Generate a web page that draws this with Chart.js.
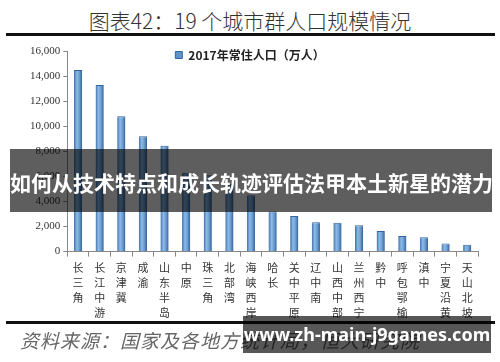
<!DOCTYPE html>
<html>
<head>
<meta charset="utf-8">
<script src="https://cdn.jsdelivr.net/npm/chart.js@4.4.1/dist/chart.umd.min.js"></script>
<style>
  body { margin: 0; background: #fff; }
  #wrap { position: relative; width: 500px; height: 362px; overflow: hidden; background: #fff; }
  #chartBox { position: absolute; left: 0; top: 0; width: 500px; height: 362px; }
  .title { position: absolute; left: 0; top: 5px; width: 500px; text-align: center;
           font: 300 21px "Noto Sans CJK SC", sans-serif; color: #333; }
  .rule { position: absolute; left: 6px; width: 489px; height: 3px; background: #111; }
  .source { position: absolute; left: 20px; top: 326px; font: italic 19px "Noto Sans CJK SC", sans-serif;
            color: #666; letter-spacing: 1px; white-space: nowrap; }
  .banner { position: absolute; left: 10px; top: 149px; width: 482px; height: 63px;
            background: rgba(0,0,0,0.63); color: #fff; font: bold 21px "Noto Sans CJK SC", sans-serif;
            text-align: center; line-height: 66px; white-space: nowrap; }
  .mark { position: absolute; left: 243px; top: 316px; width: 248px; height: 37px;
          background: rgba(0,0,0,0.66); color: #fff; font: bold 18px "Noto Sans", sans-serif;
          text-align: center; line-height: 37px; white-space: nowrap; }
</style>
</head>
<body>
<div id="wrap">
  <div class="title">图表42：19 个城市群人口规模情况</div>
  <div class="rule" style="top:33px"></div>
  <div id="chartBox"><canvas id="myChart"></canvas></div>
  <div class="rule" style="top:321px"></div>
  <div class="source">资料来源：国家及各地方统计局，恒大研究院</div>
  <div class="banner">如何从技术特点和成长轨迹评估法甲本土新星的潜力</div>
  <div class="mark">www.zh-main-j9games.com</div>
</div>
<script>
// city clusters, each name split into one character per line
var cities = ['长三角', '长江中游', '京津冀', '成渝', '山东半岛', '中原', '珠三角', '北部湾', '海峡西岸', '哈长',
    '关中平原', '辽中南', '山西中部', '兰州西宁', '黔中', '呼包鄂榆', '滇中', '宁夏沿黄', '天山北坡'];
var population = [14500, 13300, 10800, 9200, 8450, 6300, 6100, 5400, 4500, 3200,
    2850, 2350, 2300, 2100, 1650, 1250, 1150, 650, 550];
var yTicks = [0, 2000, 4000, 6000, 8000, 10000, 12000, 14000, 16000];
var seriesName = '2017年常住人口（万人）';

var labels = cities.map(function (c) { return c.split(''); });
var barPct = 0.38;

// the legend sits on top of the plot, level with the 16,000 tick
var legendInPlot = {
    id: 'legendInPlot',
    afterLayout: function (chart) {
        var lg = chart.legend;
        lg.left = 0; lg.right = 500; lg.width = 500;
        lg.top = 47; lg.bottom = 62; lg.height = 15;
    }
};

// excel-style shaded bars: darker edges, light centre
function barFill(context) {
    var chart = context.chart;
    var xs = chart.scales.x;
    if (!xs || context.dataIndex === undefined) return '#6c9fd5';
    var cx = xs.getPixelForValue(context.dataIndex);
    var half = xs.width / labels.length * barPct / 2;
    var g = chart.ctx.createLinearGradient(cx - half, 0, cx + half, 0);
    g.addColorStop(0, '#3f6fa6');
    g.addColorStop(0.35, '#8cbbe8');
    g.addColorStop(0.65, '#6d9fd5');
    g.addColorStop(1, '#345f94');
    return g;
}

var ctx = document.getElementById('myChart').getContext('2d');
var chart = new Chart(ctx, {
    type: 'bar',
    data: {
        labels: labels,
        datasets: [{
            label: seriesName,
            data: population,
            backgroundColor: barFill,
            borderColor: '#35649a',
            borderWidth: { left: 0, right: 0, top: 1, bottom: 0 },
            categoryPercentage: 1,
            barPercentage: barPct
        }]
    },
    plugins: [legendInPlot],
    options: {
        responsive: true,
        maintainAspectRatio: false,
        animation: false,
        layout: { padding: { left: 27, right: 22, top: 51, bottom: 38 } },
        plugins: {
            legend: {
                position: 'top',
                maxHeight: 0.1,
                labels: {
                    boxWidth: 7,
                    boxHeight: 7,
                    padding: 2,
                    color: '#222',
                    generateLabels: function (chart) {
                        return [{ text: seriesName, fillStyle: '#5f93cc', strokeStyle: '#35649a',
                                  lineWidth: 1, datasetIndex: 0, fontColor: '#222' }];
                    },
                    font: { family: '"Noto Sans CJK SC", serif', size: 12, weight: 'bold' }
                }
            },
            tooltip: { enabled: false }
        },
        scales: {
            x: {
                border: { display: true, color: '#888' },
                grid: { display: true, drawOnChartArea: false, tickLength: 5, color: '#888' },
                ticks: {
                    maxRotation: 0,
                    autoSkip: false,
                    padding: 4,
                    color: '#333',
                    font: { family: '"Noto Sans CJK SC", serif', size: 11, lineHeight: 1.35 }
                }
            },
            y: {
                min: 0,
                max: 16000,
                afterBuildTicks: function (axis) {
                    axis.ticks = yTicks.map(function (v) { return { value: v }; });
                },
                border: { display: true, color: '#888' },
                grid: { display: true, drawOnChartArea: false, tickLength: 4, color: '#888' },
                ticks: {
                    padding: 3,
                    color: '#333',
                    font: { family: '"Liberation Serif", serif', size: 11 },
                    callback: function (v) { return v.toLocaleString('en-US'); }
                }
            }
        }
    }
});
</script>
</body>
</html>
